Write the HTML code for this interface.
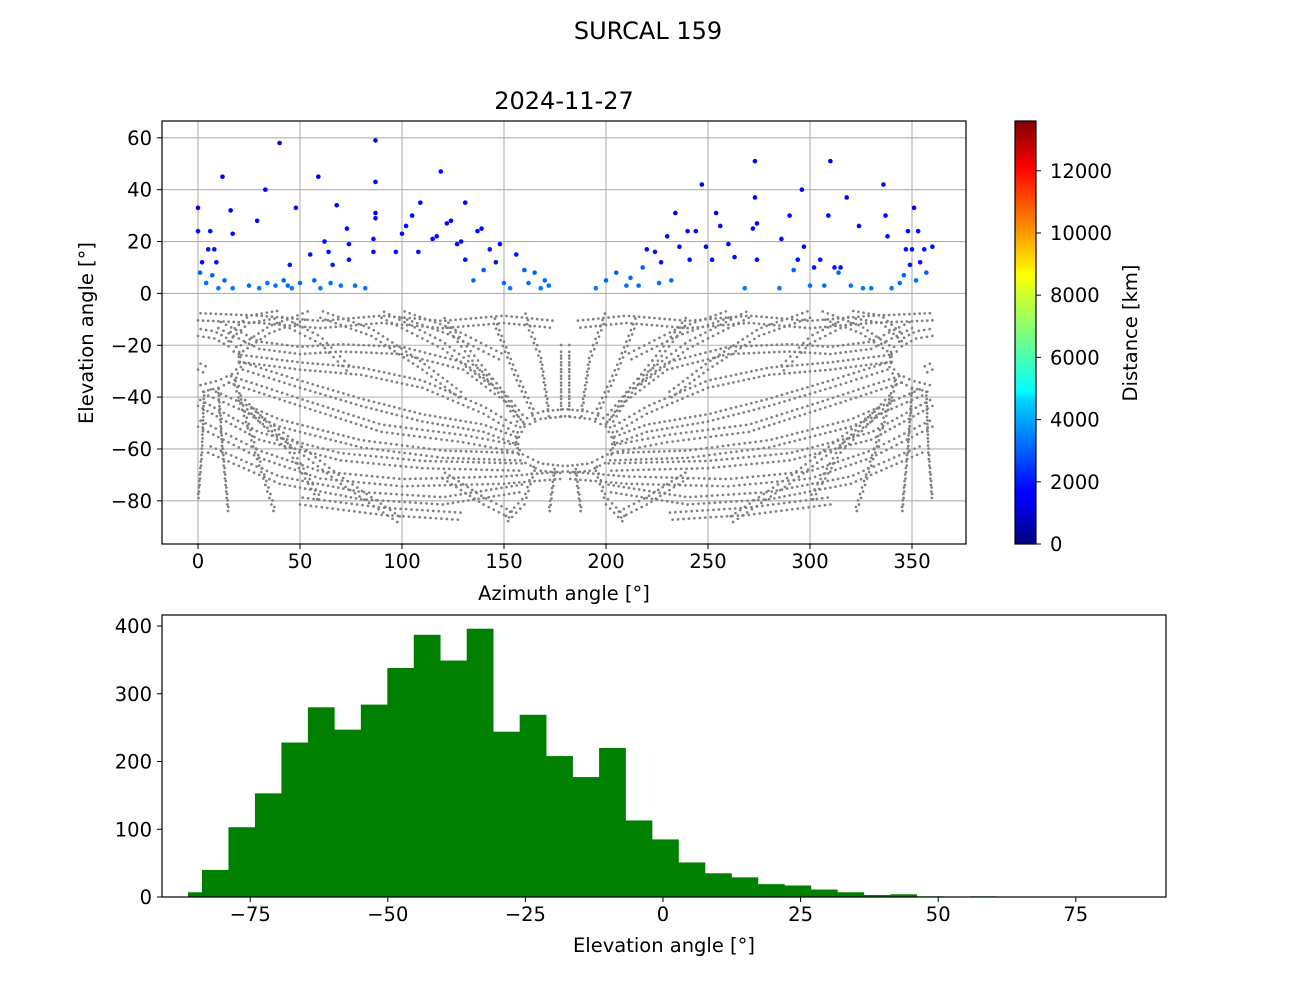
<!DOCTYPE html>
<html><head><meta charset="utf-8"><style>
body{margin:0;background:#fff}
svg{display:block;font-family:"DejaVu Sans","Liberation Sans",sans-serif}
</style></head><body>
<svg id="fig" width="1296" height="1008" viewBox="0 0 1296 1008" xmlns="http://www.w3.org/2000/svg">
<defs>
<linearGradient id="jet" x1="0" y1="1" x2="0" y2="0">
<stop offset="0" stop-color="#00007f"/><stop offset="0.11" stop-color="#0000ff"/>
<stop offset="0.125" stop-color="#0000ff"/><stop offset="0.34" stop-color="#00d4ff"/>
<stop offset="0.36" stop-color="#0ff"/><stop offset="0.5" stop-color="#7dff7a"/>
<stop offset="0.64" stop-color="#ff0"/><stop offset="0.66" stop-color="#ffe600"/>
<stop offset="0.89" stop-color="#f00"/><stop offset="1" stop-color="#7f0000"/>
</linearGradient>
</defs>
<text x="648" y="39" font-size="24" text-anchor="middle">SURCAL 159</text>
<text x="564" y="109" font-size="24" text-anchor="middle">2024-11-27</text>
<g id="top"></g>
<g id="cbar"></g>
<g id="hist"></g>
</svg>
<script>
// ---------- data ----------
const azTicks=[0,50,100,150,200,250,300,350];
const elTicks=[-80,-60,-40,-20,0,20,40,60];
const cbTicks=[0,2000,4000,6000,8000,10000,12000];
const histXTicks=[-75,-50,-25,0,25,50,75];
const histYTicks=[0,100,200,300,400];
// gray track polylines (az, el) for left half; mirrored at az=360-az
const tracks=[
[[0,-15],[8,-16],[15,-19],[20,-23],[21,-27],[18,-32],[10,-35],[0,-37]],
[[180,-46],[168,-47],[160,-50],[156,-56],[158,-63],[168,-67],[180,-68]],
[[0,-9],[30,-10],[60,-12],[90,-10],[120,-12],[150,-10],[175,-12]],
[[10,-12],[30,-20],[50,-22],[70,-21],[100,-22],[130,-28],[150,-40],[158,-50]],
[[20,-25],[50,-28],[80,-30],[110,-35],[140,-45],[157,-53]],
[[22,-28],[50,-35],[80,-42],[110,-48],[140,-52],[157,-57]],
[[15,-33],[50,-42],[90,-52],[130,-56],[157,-60]],
[[5,-38],[40,-50],[80,-58],[120,-62],[158,-63]],
[[0,-42],[30,-55],[70,-63],[110,-66],[160,-67]],
[[0,-50],[30,-62],[60,-70],[100,-73],[150,-72],[180,-70]],
[[5,-60],[40,-72],[80,-78],[120,-80],[160,-75]],
[[10,-37],[12,-60],[15,-85]],
[[18,-34],[28,-60],[38,-85]],
[[3,-38],[2,-60],[0,-80]],
[[15,-17],[25,-10],[40,-8]],
[[165,-47],[155,-30],[145,-10]],
[[172,-46],[168,-25],[160,-8]],
[[178,-46],[178,-20]],
[[160,-49],[140,-30],[120,-10]],
[[90,-8],[120,-20],[145,-35]],
[[165,-67],[160,-80],[150,-88]],
[[175,-68],[172,-85]],
[[40,-10],[60,-18],[75,-30]],
[[20,-22],[35,-14],[55,-8]],
[[60,-8],[85,-15],[110,-28],[130,-40]],
[[100,-8],[125,-15],[150,-25]],
[[50,-80],[90,-84],[130,-86]],
[[20,-40],[45,-60],[60,-80]],
[[25,-45],[70,-72],[100,-88]],
[[120,-70],[140,-80],[155,-86]],
[[0,-28],[5,-30]]
];
// blue visible points: [az, el, distance km]
const visible=[
[0,24,1800],[0,33,1700],[2,12,1900],[5,17,1900],[6,24,1800],[8,17,1900],[9,12,1900],[12,45,1500],[16,32,1700],[17,23,1800],[29,28,1700],[33,40,1600],[40,58,1400],[45,11,2000],[48,33,1700],[55,15,1900],[59,45,1500],[62,20,1800],[64,16,1900],[66,11,2000],[68,34,1700],[73,25,1800],[74,19,1800],[74,13,1900],[87,59,1400],[87,43,1500],[87,31,1700],[87,29,1700],[86,21,1800],[86,16,1900],[97,16,1900],[100,23,1800],[102,26,1800],[105,30,1700],[109,35,1600],[108,16,1900],[115,21,1800],[117,22,1800],[119,47,1500],[122,27,1700],[124,28,1700],[127,19,1800],[129,20,1800],[131,35,1600],[131,13,1900],[137,24,1800],[139,25,1800],[143,17,1900],[146,12,1900],[148,19,1800],[156,15,1900],
[1,8,3000],[4,4,3200],[7,7,3000],[10,2,3300],[13,5,3100],[17,2,3300],[25,3,3200],[30,2,3300],[34,4,3200],[38,3,3200],[42,5,3100],[44,3,3200],[46,2,3300],[50,4,3200],[57,5,3100],[60,2,3300],[65,4,3200],[70,3,3200],[77,3,3200],[82,2,3300],[135,5,3100],[140,9,3000],[150,4,3200],[153,2,3300],[160,9,3000],[162,4,3200],[165,8,3000],[168,2,3300],[170,5,3100],[172,3,3200],
[195,2,3300],[200,5,3100],[205,8,3000],[210,3,3200],[212,6,3100],[216,3,3200],[218,10,3000],[226,4,3200],[232,5,3100],[268,2,3300],[285,2,3300],[292,9,3000],[300,3,3200],[307,3,3200],[314,8,3000],[320,3,3200],[326,2,3300],[330,2,3300],[340,2,3300],[344,4,3200],[352,5,3100],[346,7,3000],[357,8,3000],
[220,17,1900],[224,16,1900],[227,12,1900],[230,22,1800],[234,31,1700],[236,18,1800],[240,24,1800],[241,13,1900],[244,24,1800],[247,42,1500],[249,18,1800],[252,13,1900],[254,31,1700],[256,26,1800],[260,19,1800],[263,14,1900],[272,25,1800],[273,37,1600],[273,51,1400],[274,27,1700],[274,13,1900],[286,21,1800],[290,30,1700],[294,13,1900],[296,40,1600],[297,18,1800],[302,10,1900],[305,13,1900],[309,30,1700],[310,51,1400],[312,10,1900],[318,37,1600],[324,26,1800],[336,42,1500],[337,30,1700],[338,22,1800],[347,17,1900],[348,24,1800],[349,11,1900],[350,17,1900],[351,33,1700],[353,24,1800],[354,12,1900],[356,17,1900],[360,18,1800],[315,10,1900]
];
const binEdgesStart=[-86.3,-83.76];
const binWidth=4.81;
const counts=[7,40,103,153,228,280,247,284,338,387,349,396,244,269,208,177,220,113,85,51,35,29,19,17,11,7,3,4,1,0.5,1,0.5,0.3,0.3,0.3,0.3];

// ---------- helpers ----------
const NS="http://www.w3.org/2000/svg";
function mk(tag,attrs,parent,txt){const e=document.createElementNS(NS,tag);for(const k in attrs)e.setAttribute(k,attrs[k]);if(txt!==undefined)e.textContent=txt;parent.appendChild(e);return e;}
const T={x0:162,x1:966,y0:121,y1:544};
const sx=a=>198+a*2.04;
const sy=e=>293.4-e*2.593;
const FS=19.5;
const topG=document.getElementById('top');
mk('rect',{x:T.x0,y:T.y0,width:T.x1-T.x0,height:T.y1-T.y0,fill:'#fff'},topG);
azTicks.forEach(v=>{
 const g=mk('line',{x1:sx(v),x2:sx(v),y1:T.y0,y2:T.y1,stroke:'#b0b0b0','stroke-width':1.1},topG);
 
 
 mk('line',{x1:sx(v),x2:sx(v),y1:T.y1,y2:T.y1+5,stroke:'#000'},topG);
 const t=mk('text',{x:sx(v),y:T.y1+24,'font-size':FS,'text-anchor':'middle'},topG,String(v));
 
 
});
elTicks.forEach(v=>{
 const g=mk('line',{x1:T.x0,x2:T.x1,y1:sy(v),y2:sy(v),stroke:'#b0b0b0','stroke-width':1.1},topG);
 
 
 mk('line',{x1:T.x0-5,x2:T.x0,y1:sy(v),y2:sy(v),stroke:'#000'},topG);
 const t=mk('text',{x:T.x0-10,y:sy(v)+7,'font-size':FS,'text-anchor':'end'},topG,v<0?'\u2212'+(-v):String(v));
 
 
});
const grayG=mk('g',{fill:'#808080'},topG);


function drawTrack(pts,mirror,off,shift){
 for(let i=0;i<pts.length-1;i++){
  const [a1,e1]=pts[i],[a2,e2]=pts[i+1];
  const len=Math.hypot(a2-a1,e2-e1);
  const n=Math.max(2,Math.round(len/2.6));
  for(let k=0;k<n;k++){
   const f=(k+shift)/n;let a=a1+(a2-a1)*f,e=e1+(e2-e1)*f+off;
   if(mirror)a=360-a;
   mk('circle',{cx:sx(a),cy:sy(e),r:1.35},grayG);
  }
 }
}
tracks.forEach(tr=>{[false,true].forEach(m=>{drawTrack(tr,m,-1.4,0);drawTrack(tr,m,1.4,0.5);});});
function jet(f){f=Math.max(0,Math.min(1,f));const r=Math.min(4*f-1.5,-4*f+4.5),g=Math.min(4*f-0.5,-4*f+3.5),b=Math.min(4*f+0.5,-4*f+2.5);const c=x=>Math.round(255*Math.max(0,Math.min(1,x)));return `rgb(${c(r)},${c(g)},${c(b)})`;}
const blueG=mk('g',{},topG);


visible.forEach(p=>{mk('circle',{cx:sx(p[0]),cy:sy(p[1]),r:2.3,fill:jet(p[2]/13600)},blueG);});
mk('rect',{x:T.x0,y:T.y0,width:T.x1-T.x0,height:T.y1-T.y0,fill:'none',stroke:'#000','stroke-width':1.2},topG);
let lbl=mk('text',{x:564,y:600,'font-size':FS,'text-anchor':'middle'},topG,'Azimuth angle [°]');


lbl=mk('text',{x:0,y:0,'font-size':FS,'text-anchor':'middle',transform:'translate(93,333) rotate(-90)'},topG,'Elevation angle [°]');



const cb=document.getElementById('cbar');
const cyf=v=>544-v*(544-121)/13600;
mk('rect',{x:1015,y:121,width:21,height:423,fill:'url(#jet)',stroke:'#000','stroke-width':1.2},cb);
cbTicks.forEach(v=>{
 mk('line',{x1:1036,x2:1041,y1:cyf(v),y2:cyf(v),stroke:'#000'},cb);
 const t=mk('text',{x:1050,y:cyf(v)+7,'font-size':FS},cb,String(v));
 
 
});
lbl=mk('text',{x:0,y:0,'font-size':FS,'text-anchor':'middle',transform:'translate(1137,333) rotate(-90)'},cb,'Distance [km]');



const H={x0:162,x1:1166,y0:615,y1:897};
const hx=v=>663+v*5.504;
const hy=c=>897-c*0.6775;
const hist=document.getElementById('hist');
mk('rect',{x:H.x0,y:H.y0,width:H.x1-H.x0,height:H.y1-H.y0,fill:'#fff'},hist);
counts.forEach((c,i)=>{
 const l=i===0?binEdgesStart[0]:binEdgesStart[1]+(i-1)*binWidth;
 const r=binEdgesStart[1]+i*binWidth;
 const b=mk('rect',{x:hx(l),y:hy(c),width:hx(r)-hx(l)+0.3,height:897-hy(c),fill:'#008000'},hist);
 
 
});
mk('rect',{x:H.x0,y:H.y0,width:H.x1-H.x0,height:H.y1-H.y0,fill:'none',stroke:'#000','stroke-width':1.2},hist);
histXTicks.forEach(v=>{
 mk('line',{x1:hx(v),x2:hx(v),y1:H.y1,y2:H.y1+5,stroke:'#000'},hist);
 const t=mk('text',{x:hx(v),y:H.y1+24,'font-size':FS,'text-anchor':'middle'},hist,v<0?'\u2212'+(-v):String(v));
 
 
});
histYTicks.forEach(v=>{
 mk('line',{x1:H.x0-5,x2:H.x0,y1:hy(v),y2:hy(v),stroke:'#000'},hist);
 const t=mk('text',{x:H.x0-10,y:hy(v)+7,'font-size':FS,'text-anchor':'end'},hist,String(v));
 
 
});
lbl=mk('text',{x:664,y:952,'font-size':FS,'text-anchor':'middle'},hist,'Elevation angle [°]');


</script>
</body></html>
